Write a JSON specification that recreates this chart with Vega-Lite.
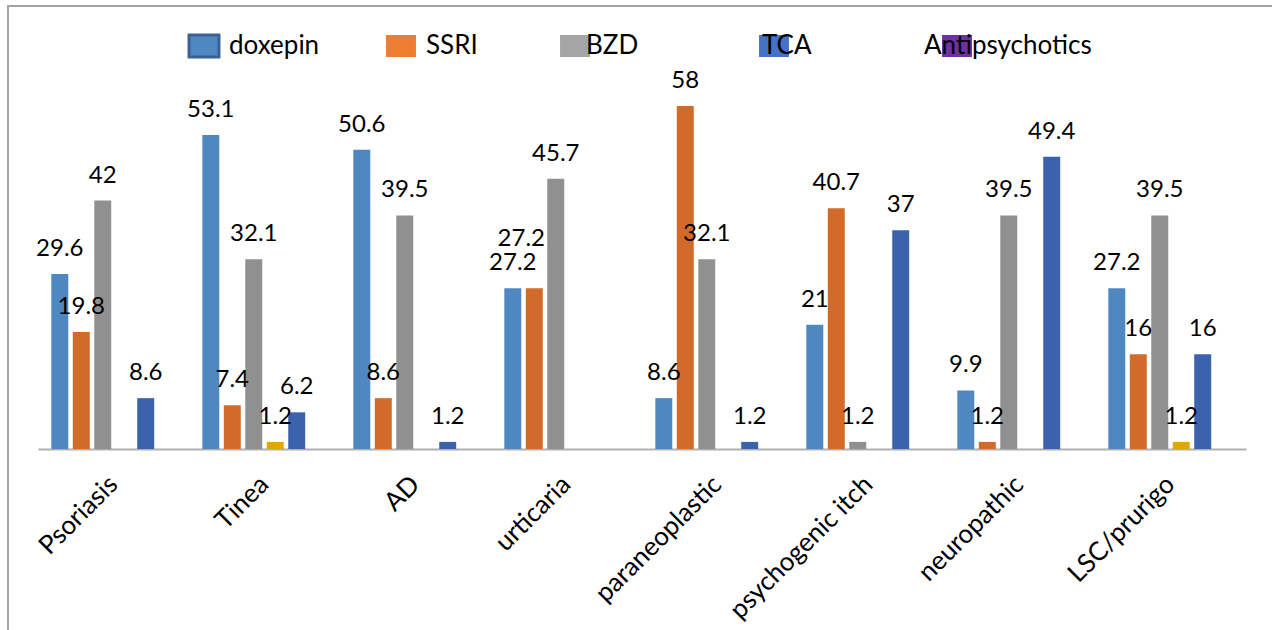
{
  "$schema": "https://vega.github.io/schema/vega-lite/v6.json",
  "width": 1266,
  "height": 626,
  "autosize": {"type": "none"},
  "padding": {"left": 8, "top": 6, "right": -2, "bottom": -2},
  "background": "white",
  "config": {
    "view": {"stroke": "#a3a3a3", "strokeWidth": 2},
    "font": "Lato",
    "legend": {
      "title": null, "orient": "none", "direction": "horizontal", "legendY": 27,
      "symbolType": "M-1.36,-1H1.36V1H-1.36Z", "symbolSize": 484, "symbolOpacity": 1,
      "labelFontSize": 26, "labelFont": "Lato", "labelColor": "#000000",
      "labelOffset": 12, "labelLimit": 400
    }
  },
  "datasets": {
    "bars": [
      {"cat": "Psoriasis", "drug": "doxepin", "value": 29.6},
      {"cat": "Psoriasis", "drug": "SSRI", "value": 19.8},
      {"cat": "Psoriasis", "drug": "BZD", "value": 42},
      {"cat": "Psoriasis", "drug": "TCA", "value": 8.6},
      {"cat": "Tinea", "drug": "doxepin", "value": 53.1},
      {"cat": "Tinea", "drug": "SSRI", "value": 7.4},
      {"cat": "Tinea", "drug": "BZD", "value": 32.1},
      {"cat": "Tinea", "drug": "other", "value": 1.2},
      {"cat": "Tinea", "drug": "TCA", "value": 6.2},
      {"cat": "AD", "drug": "doxepin", "value": 50.6},
      {"cat": "AD", "drug": "SSRI", "value": 8.6},
      {"cat": "AD", "drug": "BZD", "value": 39.5},
      {"cat": "AD", "drug": "TCA", "value": 1.2},
      {"cat": "urticaria", "drug": "doxepin", "value": 27.2},
      {"cat": "urticaria", "drug": "SSRI", "value": 27.2},
      {"cat": "urticaria", "drug": "BZD", "value": 45.7},
      {"cat": "paraneoplastic", "drug": "doxepin", "value": 8.6},
      {"cat": "paraneoplastic", "drug": "SSRI", "value": 58},
      {"cat": "paraneoplastic", "drug": "BZD", "value": 32.1},
      {"cat": "paraneoplastic", "drug": "TCA", "value": 1.2},
      {"cat": "psychogenic itch", "drug": "doxepin", "value": 21},
      {"cat": "psychogenic itch", "drug": "SSRI", "value": 40.7},
      {"cat": "psychogenic itch", "drug": "BZD", "value": 1.2},
      {"cat": "psychogenic itch", "drug": "TCA", "value": 37},
      {"cat": "neuropathic", "drug": "doxepin", "value": 9.9},
      {"cat": "neuropathic", "drug": "SSRI", "value": 1.2},
      {"cat": "neuropathic", "drug": "BZD", "value": 39.5},
      {"cat": "neuropathic", "drug": "TCA", "value": 49.4},
      {"cat": "LSC/prurigo", "drug": "doxepin", "value": 27.2},
      {"cat": "LSC/prurigo", "drug": "SSRI", "value": 16},
      {"cat": "LSC/prurigo", "drug": "BZD", "value": 39.5},
      {"cat": "LSC/prurigo", "drug": "other", "value": 1.2},
      {"cat": "LSC/prurigo", "drug": "TCA", "value": 16}
    ],
    "legend": [
      {"name": "doxepin"},
      {"name": "SSRI"},
      {"name": "BZD"},
      {"name": "TCA"},
      {"name": "Antipsychotics"}
    ]
  },
  "layer": [
    {
      "data": {"name": "bars"},
      "encoding": {
        "x": {
          "field": "cat", "type": "nominal",
          "sort": ["Psoriasis", "Tinea", "AD", "urticaria", "paraneoplastic", "psychogenic itch", "neuropathic", "LSC/prurigo"],
          "scale": {"paddingInner": 0, "paddingOuter": 0, "range": [30, 1238]},
          "axis": {
            "title": null, "labelAngle": -45, "labelFontSize": 26, "labelFont": "Lato",
            "labelColor": "#000000", "ticks": false, "domainColor": "#b0b0b0", "domainWidth": 2,
            "labelPadding": 31, "labelLimit": 400, "labelBaseline": "middle", "offset": -183
          }
        },
        "xOffset": {
          "field": "drug", "type": "nominal",
          "scale": {"domain": ["doxepin", "SSRI", "BZD", "other", "TCA", "Antipsychotics"], "paddingInner": 0.21, "paddingOuter": 0.62}
        },
        "y": {
          "field": "value", "type": "quantitative",
          "scale": {"domain": [0, 70], "nice": false, "range": [443, 29]},
          "axis": null
        }
      },
      "layer": [
        {
          "mark": {"type": "bar"},
          "encoding": {
            "color": {
              "field": "drug", "type": "nominal",
              "scale": {"domain": ["doxepin", "SSRI", "BZD", "other", "TCA", "Antipsychotics"], "range": ["#4f88c0", "#d26b2a", "#909090", "#e0a800", "#3b63ac", "#7030a0"]},
              "legend": null
            }
          }
        },
        {
          "transform": [{"filter": "!(datum.cat === 'urticaria' && datum.drug === 'SSRI')"}],
          "mark": {"type": "text", "baseline": "alphabetic", "dy": -18, "fontSize": 24, "font": "Lato", "color": "#000000"},
          "encoding": {"text": {"field": "value", "type": "quantitative"}}
        },
        {
          "transform": [{"filter": "datum.cat === 'urticaria' && datum.drug === 'SSRI'"}],
          "mark": {"type": "text", "baseline": "alphabetic", "dy": -42, "dx": -13, "fontSize": 24, "font": "Lato", "color": "#000000"},
          "encoding": {"text": {"field": "value", "type": "quantitative"}}
        }
      ]
    },
    {
      "data": {"name": "legend"},
      "transform": [{"filter": "datum.name === 'doxepin'"}],
      "mark": {"type": "square", "opacity": 0, "size": 0},
      "encoding": {
        "fill": {
          "field": "name", "type": "nominal",
          "scale": {"domain": ["doxepin"], "range": ["#4f88c0"]},
          "legend": {
            "legendX": 183,
            "encode": {"symbols": {"update": {"opacity": {"value": 1}, "stroke": {"value": "#3c5f94"}, "strokeWidth": {"value": 3}}}}
          }
        }
      }
    },
    {
      "data": {"name": "legend"},
      "transform": [{"filter": "datum.name === 'SSRI'"}],
      "mark": {"type": "square", "opacity": 0, "size": 0},
      "encoding": {
        "fill": {
          "field": "name", "type": "nominal",
          "scale": {"domain": ["SSRI"], "range": ["#ed7d31"]},
          "legend": {
            "legendX": 380,
            "encode": {"symbols": {"update": {"opacity": {"value": 1}}}}
          }
        }
      }
    },
    {
      "data": {"name": "legend"},
      "transform": [{"filter": "datum.name === 'BZD'"}],
      "mark": {"type": "square", "opacity": 0, "size": 0},
      "encoding": {
        "fill": {
          "field": "name", "type": "nominal",
          "scale": {"domain": ["BZD"], "range": ["#a5a5a5"]},
          "legend": {
            "legendX": 554,
            "encode": {"symbols": {"update": {"opacity": {"value": 1}}}, "labels": {"update": {"dx": {"value": -14}}}}
          }
        }
      }
    },
    {
      "data": {"name": "legend"},
      "transform": [{"filter": "datum.name === 'TCA'"}],
      "mark": {"type": "square", "opacity": 0, "size": 0},
      "encoding": {
        "fill": {
          "field": "name", "type": "nominal",
          "scale": {"domain": ["TCA"], "range": ["#4472c4"]},
          "legend": {
            "legendX": 753,
            "encode": {"symbols": {"update": {"opacity": {"value": 1}}}, "labels": {"update": {"dx": {"value": -37}}}}
          }
        }
      }
    },
    {
      "data": {"name": "legend"},
      "transform": [{"filter": "datum.name === 'Antipsychotics'"}],
      "mark": {"type": "square", "opacity": 0, "size": 0},
      "encoding": {
        "fill": {
          "field": "name", "type": "nominal",
          "scale": {"domain": ["Antipsychotics"], "range": ["#7030a0"]},
          "legend": {
            "legendX": 936,
            "encode": {"symbols": {"update": {"opacity": {"value": 1}}}, "labels": {"update": {"dx": {"value": -58}}}}
          }
        }
      }
    }
  ],
  "resolve": {"scale": {"color": "independent", "fill": "independent"}, "legend": {"fill": "independent"}}
}
